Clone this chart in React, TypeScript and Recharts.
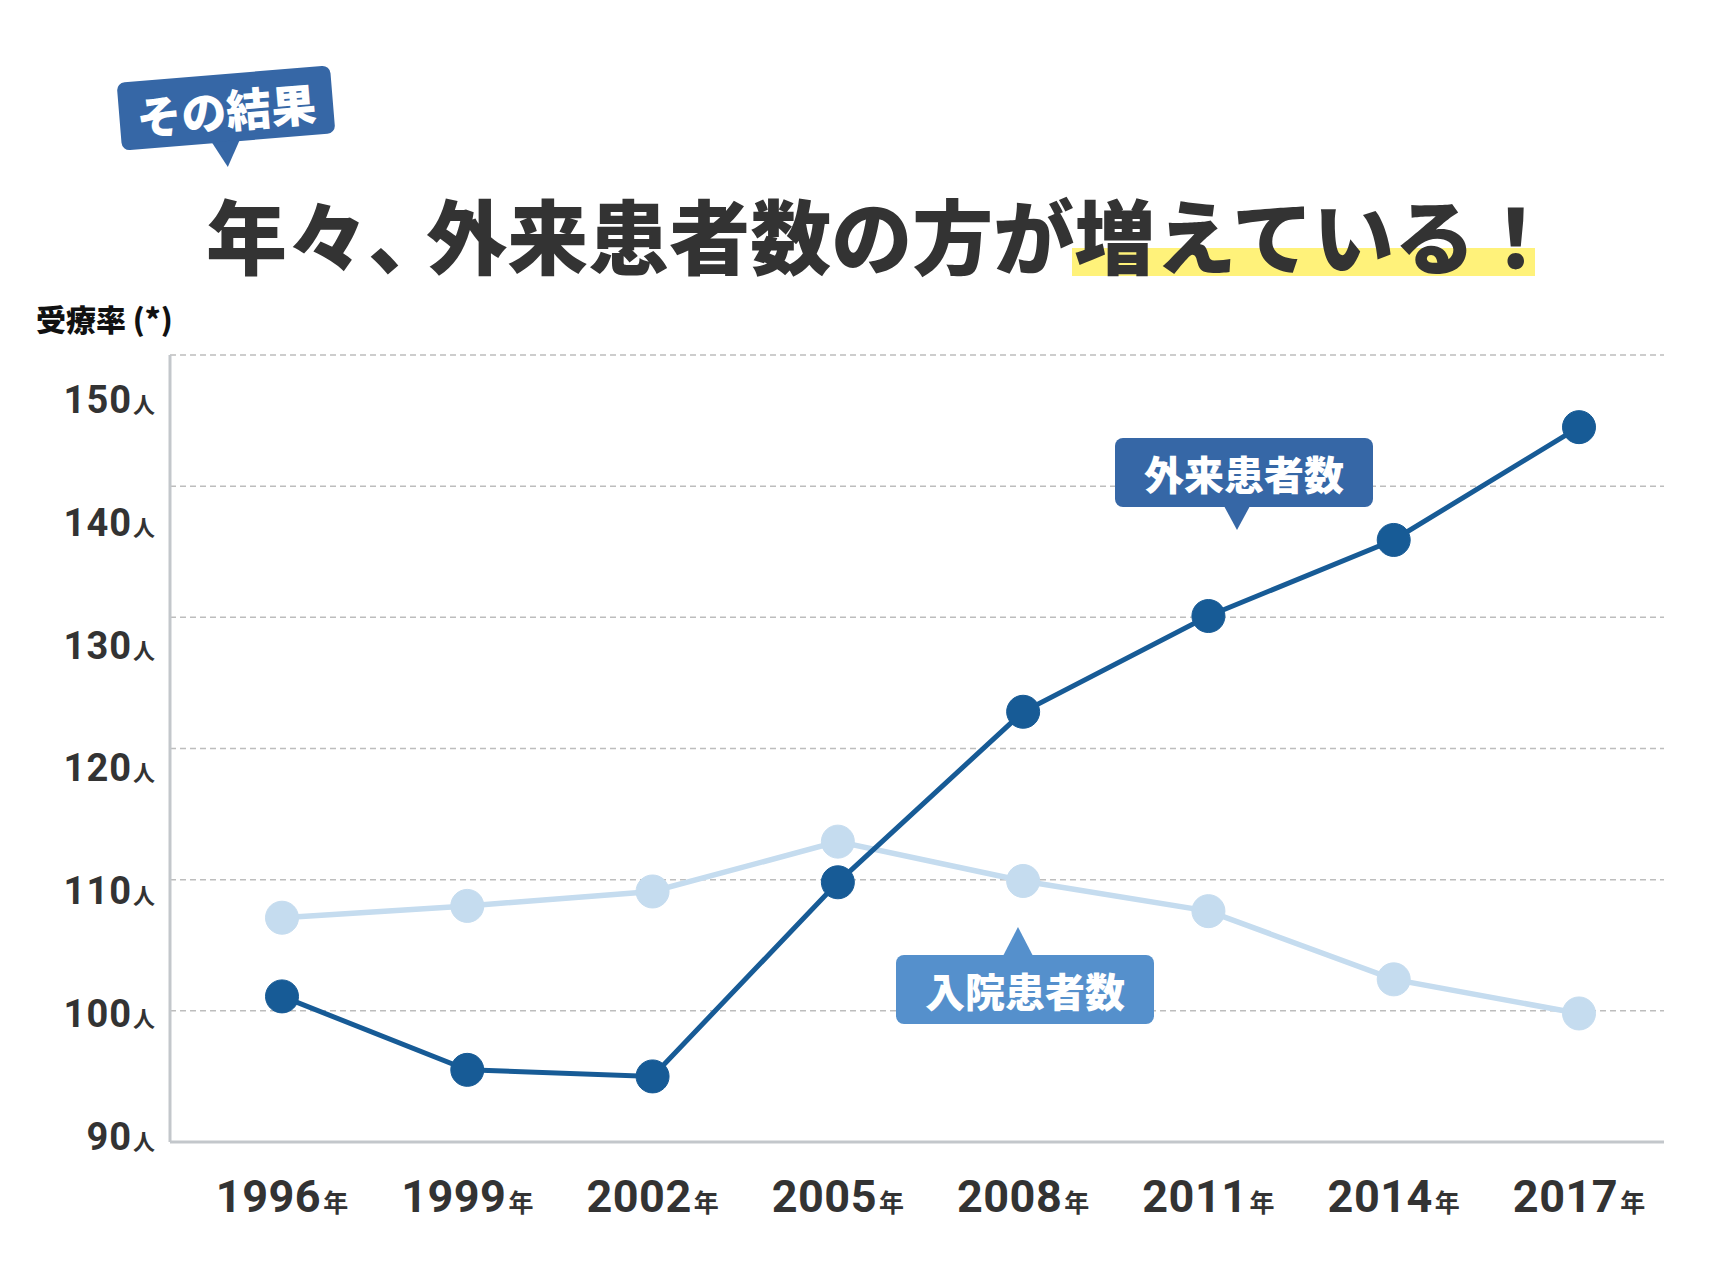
import React from 'react';
import { LineChart, Line, XAxis, YAxis, CartesianGrid } from 'recharts';

const years = ['1996', '1999', '2002', '2005', '2008', '2011', '2014', '2017'];
const outpatient = [101.1, 95.5, 95.0, 109.8, 122.8, 130.1, 135.9, 144.5];
const inpatient = [107.1, 108.0, 109.1, 112.9, 109.9, 107.6, 102.4, 99.8];
const yTicks = [90, 100, 110, 120, 130, 140, 150];
const yUnit = '人';
const xUnit = '年';

const data = years.map((y, i) => ({ year: y, out: outpatient[i], inp: inpatient[i] }));

const DARK = '#175b96';
const LIGHT = '#c5dcef';
const TEXT = '#333333';
const CJK = '"Noto Sans CJK JP", "Noto Sans CJK SC", sans-serif';
const NUM = 'Roboto, "Noto Sans", sans-serif';

const XTick = (props: any) => {
  const { x, y, payload } = props;
  return (
    <text x={x} y={y + 70} textAnchor="middle" fill={TEXT} fontWeight={700}>
      <tspan fontFamily={NUM} fontSize={45} letterSpacing={0.5}>{payload.value}</tspan>
      <tspan fontFamily={CJK} fontSize={25} dx={2}>{xUnit}</tspan>
    </text>
  );
};

const YTick = (props: any) => {
  const { x, y, payload } = props;
  const shift = 8 + (payload.value - 90) * 0.833;
  return (
    <text x={x - 15} y={y + shift} textAnchor="end" fill={TEXT} fontWeight={700}>
      <tspan fontFamily={NUM} fontSize={38} letterSpacing={1}>{payload.value}</tspan>
      <tspan fontFamily={CJK} fontSize={22} dx={1}>{yUnit}</tspan>
    </text>
  );
};

type CalloutProps = {
  left: number; top: number; width: number; height: number; bg: string; text: string;
  dir: 'up' | 'down'; px: number; ph: number; pw: number; fontSize: number; rotate?: number;
};

const Callout = ({ left, top, width, height, bg, text, dir, px, ph, pw, fontSize, rotate = 0 }: CalloutProps) => (
  <div
    style={{
      position: 'absolute', left, top, width, height, background: bg, borderRadius: 8,
      transform: `rotate(${rotate}deg)`, display: 'flex', alignItems: 'center', justifyContent: 'center',
      color: '#fff', fontFamily: CJK, fontWeight: 900, fontSize, lineHeight: 1, zIndex: 3,
    }}
  >
    <div
      style={{
        position: 'absolute', left: px - pw / 2, width: 0, height: 0,
        borderLeft: `${pw / 2}px solid transparent`, borderRight: `${pw / 2}px solid transparent`,
        ...(dir === 'down'
          ? { top: height - 1, borderTop: `${ph}px solid ${bg}` }
          : { top: -ph + 1, borderBottom: `${ph}px solid ${bg}` }),
      }}
    />
    <span style={{ position: 'relative' }}>{text}</span>
  </div>
);

export default function App() {
  return (
    <div style={{ position: 'absolute', left: 0, top: 0, width: 1728, height: 1278, background: '#fff', overflow: 'hidden' }}>
      <Callout left={119} top={74} width={214} height={68} bg="#3667a6" text="その結果" dir="down" px={104} ph={26} pw={28} fontSize={45} rotate={-4.7} />
      <div style={{ position: 'absolute', left: 1072, top: 248, width: 463, height: 28, background: '#fff27a', zIndex: 1 }} />
      <div
        style={{
          position: 'absolute', left: 206, top: 192, fontFamily: CJK, fontWeight: 900, fontSize: 81,
          lineHeight: '81px', color: TEXT, whiteSpace: 'nowrap', zIndex: 2,
        }}
      >
        年々<span style={{ letterSpacing: '-0.28em' }}>、</span>外来患者数の方が増えている！
      </div>
      <div
        style={{
          position: 'absolute', left: 36, top: 303, fontFamily: CJK, fontWeight: 900, fontSize: 30,
          lineHeight: '30px', color: '#111', whiteSpace: 'nowrap',
        }}
      >
        受療率 (*)
      </div>
      <LineChart width={1728} height={1278} data={data} margin={{ top: 355, right: 64, bottom: 56, left: 0 }}>
        <CartesianGrid vertical={false} stroke="#bdbdbd" strokeDasharray="6 4" strokeWidth={1.5} />
        <XAxis
          dataKey="year" scale="point" padding={{ left: 112, right: 85 }} height={80}
          tickLine={false} tickSize={0} tickMargin={0} axisLine={{ stroke: '#c3c7cb', strokeWidth: 3 }}
          tick={<XTick />} interval={0}
        />
        <YAxis
          domain={[90, 150]} ticks={yTicks} width={170} tickLine={false} tickSize={0} tickMargin={0}
          axisLine={{ stroke: '#c3c7cb', strokeWidth: 3 }} tick={<YTick />} interval={0}
        />
        <YAxis yAxisId="r" orientation="right" domain={[90, 150]} width={0} tick={false} tickLine={false} axisLine={{ stroke: '#e0e0e0', strokeWidth: 1.5 }} />
        <Line
          dataKey="inp" stroke={LIGHT} strokeWidth={5.5} isAnimationActive={false}
          dot={{ r: 16.5, fill: LIGHT, stroke: LIGHT, strokeWidth: 1 }} activeDot={false}
        />
        <Line
          dataKey="out" stroke={DARK} strokeWidth={5} isAnimationActive={false}
          dot={{ r: 16.5, fill: DARK, stroke: DARK, strokeWidth: 1 }} activeDot={false}
        />
      </LineChart>
      <Callout left={1115} top={438} width={258} height={69} bg="#3667a6" text="外来患者数" dir="down" px={122} ph={24} pw={27} fontSize={40} />
      <Callout left={896} top={955} width={258} height={69} bg="#5590cc" text="入院患者数" dir="up" px={122} ph={29} pw={31} fontSize={40} />
    </div>
  );
}
